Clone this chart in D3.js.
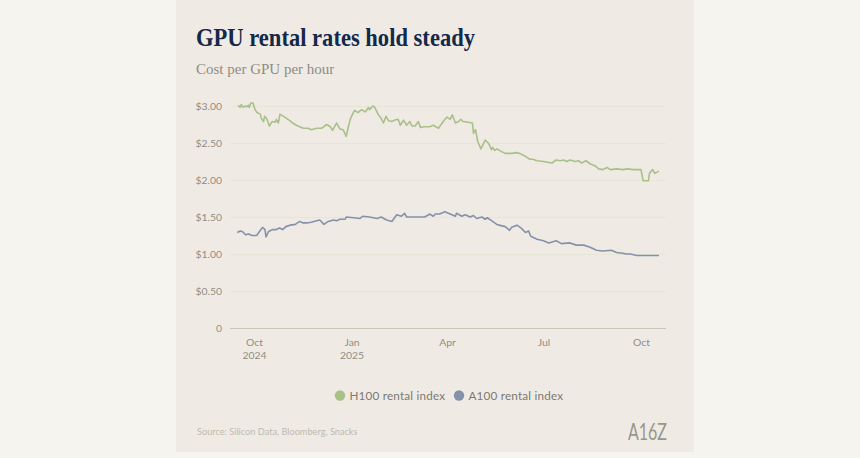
<!DOCTYPE html>
<html>
<head>
<meta charset="utf-8">
<script src="https://cdn.jsdelivr.net/npm/d3@7"></script>
<style>
	html, body { margin: 0; padding: 0; background: #f6f4ef; }
	svg { display: block; }
	text { font-family: Lato, sans-serif; }
	.title { font-family: "Liberation Serif", serif; font-weight: 700; font-size: 25px; fill: #14284a; }
	.subtitle { font-family: "Liberation Serif", serif; font-size: 15px; fill: #8d8b84; }
	.tick text { font-size: 10.4px; fill: #8f8d85; }
	.legend-label { font-size: 11.7px; fill: #7b7972; letter-spacing: 0.2px; }
	.source { font-size: 9.2px; fill: #bdbab1; }
	.logo { font-family: Lato, sans-serif; font-weight: 400; font-size: 24px; fill: #98958b; }
</style>
</head>
<body>
<svg id="chart" width="860" height="458"></svg>
<script>
// days are counted from 1 Oct 2024
var h100Days = [-15, -13, -12, -10, -8.5, -7, -5, -4.4, -3, -1, 1, 3, 6, 7, 9, 10, 12, 14.5, 17, 20, 21, 23, 24.5, 28, 31, 34, 36.5, 40, 43, 46.5, 51, 54, 59, 64, 68.5, 72, 74, 78, 81, 84, 87, 89, 91, 94, 95, 98, 101.5, 105, 108, 109, 112, 114, 117, 120, 122, 124.5, 127, 130, 133, 136, 138, 141, 144, 147, 149, 152, 155, 157, 160, 164, 166, 169, 174, 179, 182, 185, 187, 190, 193, 195, 197, 202, 206, 207, 209, 211, 214, 218, 221, 224, 225, 227, 229, 234, 237, 243, 248, 252, 257, 260, 263, 267, 273, 281, 285, 289, 292, 295, 298, 303, 306, 309, 313, 317, 322, 325, 329, 333, 336, 342, 348, 352, 358, 365, 367, 372, 373, 376, 378, 382];
var h100Values = [3.01, 2.98, 3.02, 2.98, 3.00, 2.99, 3.01, 2.98, 3.04, 3.04, 2.95, 2.91, 2.89, 2.83, 2.79, 2.86, 2.83, 2.73, 2.79, 2.78, 2.82, 2.77, 2.89, 2.86, 2.83, 2.80, 2.77, 2.74, 2.72, 2.70, 2.70, 2.68, 2.70, 2.70, 2.75, 2.72, 2.67, 2.77, 2.69, 2.68, 2.59, 2.72, 2.83, 2.92, 2.94, 2.91, 2.95, 2.92, 2.98, 2.95, 3.00, 2.98, 2.89, 2.83, 2.77, 2.86, 2.80, 2.79, 2.81, 2.82, 2.74, 2.81, 2.74, 2.79, 2.73, 2.73, 2.79, 2.71, 2.72, 2.72, 2.72, 2.74, 2.70, 2.80, 2.85, 2.82, 2.88, 2.77, 2.79, 2.82, 2.79, 2.78, 2.77, 2.63, 2.68, 2.52, 2.42, 2.54, 2.50, 2.41, 2.44, 2.40, 2.42, 2.38, 2.36, 2.36, 2.37, 2.35, 2.31, 2.28, 2.28, 2.26, 2.25, 2.23, 2.27, 2.26, 2.27, 2.25, 2.27, 2.25, 2.26, 2.23, 2.26, 2.22, 2.19, 2.15, 2.14, 2.17, 2.14, 2.15, 2.14, 2.15, 2.14, 2.14, 1.99, 1.99, 2.09, 2.14, 2.09, 2.12];
var a100Days = [-15.7, -13, -10.7, -8, -5, -2, 2.5, 5, 8, 10.4, 11.3, 13.5, 16, 18, 21, 24, 27, 30, 34, 39, 43, 46.5, 50, 54, 59, 62, 66, 70, 75, 78, 81, 86, 87, 94, 100, 102.5, 109, 116, 120, 125, 130, 134.6, 139, 142, 144, 150, 161, 166, 169, 171, 175, 180, 185, 190, 191, 196, 199, 204, 207, 210, 215, 218, 220, 224, 229, 234, 237, 241, 243, 248, 252, 256, 259, 261, 267, 273, 278, 285, 290, 298, 304, 311, 317, 323, 329, 337, 342, 348, 351, 355, 361, 367, 382];
var a100Values = [1.29, 1.31, 1.30, 1.26, 1.27, 1.25, 1.25, 1.30, 1.36, 1.33, 1.23, 1.30, 1.32, 1.33, 1.33, 1.35, 1.33, 1.37, 1.39, 1.40, 1.44, 1.42, 1.42, 1.43, 1.45, 1.46, 1.40, 1.44, 1.46, 1.45, 1.47, 1.47, 1.50, 1.49, 1.48, 1.51, 1.50, 1.48, 1.50, 1.46, 1.44, 1.53, 1.51, 1.55, 1.50, 1.50, 1.50, 1.54, 1.51, 1.54, 1.54, 1.57, 1.54, 1.51, 1.55, 1.51, 1.53, 1.50, 1.52, 1.48, 1.50, 1.47, 1.49, 1.45, 1.40, 1.38, 1.37, 1.32, 1.36, 1.39, 1.35, 1.29, 1.31, 1.24, 1.20, 1.18, 1.15, 1.18, 1.14, 1.15, 1.12, 1.12, 1.09, 1.05, 1.04, 1.05, 1.02, 1.01, 1.00, 1.00, 0.98, 0.98, 0.98];

var yTicks = [0, 0.5, 1, 1.5, 2, 2.5, 3];
var xTickDates = ['2024-10-01', '2025-01-01', '2025-04-01', '2025-07-01', '2025-10-01'];
var xTickLabels = [['Oct', '2024'], ['Jan', '2025'], ['Apr'], ['Jul'], ['Oct']];
var seriesNames = ['H100 rental index', 'A100 rental index'];
var seriesColors = ['#a9c088', '#8492a9'];

var parseDay = d3.utcParse('%Y-%m-%d');
var dayZero = parseDay('2024-10-01');

var svg = d3.select('#chart');

svg.append('rect')
	.attr('x', 176).attr('y', 0)
	.attr('width', 518).attr('height', 452)
	.attr('fill', '#efebe4');

var x = d3.scaleUtc()
	.domain([dayZero, parseDay('2025-10-01')])
	.range([254, 641]);

var y = d3.scaleLinear()
	.domain([0, 3])
	.range([328, 106]);

svg.append('text').attr('class', 'title').attr('x', 196).attr('y', 46)
	.attr('textLength', 279).attr('lengthAdjust', 'spacingAndGlyphs')
	.text('GPU rental rates hold steady');
svg.append('text').attr('class', 'subtitle').attr('x', 196).attr('y', 74).text('Cost per GPU per hour');

// y axis doubles as the grid
var yAxis = svg.append('g')
	.attr('transform', 'translate(230,0)')
	.call(d3.axisLeft(y)
		.tickValues(yTicks)
		.tickSize(-436)
		.tickPadding(8)
		.tickFormat(d => d === 0 ? '0' : d3.format('$.2f')(d)));

yAxis.select('.domain').remove();
yAxis.selectAll('.tick line')
	.attr('stroke', d => d === 0 ? '#c8c8b4' : '#e6e5d6')
	.attr('stroke-width', d => d === 0 ? 1.2 : 1);

var xAxis = svg.append('g')
	.attr('transform', 'translate(0,328)')
	.call(d3.axisBottom(x)
		.tickValues(xTickDates.map(parseDay))
		.tickSize(0)
		.tickPadding(11)
		.tickFormat(''));

xAxis.select('.domain').remove();
xAxis.selectAll('.tick text')
	.each(function (d, i) {
		d3.select(this).selectAll('tspan')
			.data(xTickLabels[i])
			.enter()
			.append('tspan')
			.attr('x', 0)
			.attr('dy', (t, j) => j === 0 ? '0.71em' : '1.25em')
			.text(t => t);
	});

var line = d3.line()
	.x(d => x(d3.utcHour.offset(dayZero, d[0] * 24)))
	.y(d => y(d[1]));

[[h100Days, h100Values], [a100Days, a100Values]].forEach(function (s, i) {
	svg.append('path')
		.datum(d3.zip(s[0], s[1]))
		.attr('fill', 'none')
		.attr('stroke', seriesColors[i])
		.attr('stroke-width', 1.6)
		.attr('stroke-linejoin', 'round')
		.attr('d', line);
});

// legend
var legendX = [340, 459];
var legend = svg.selectAll('.legend')
	.data(seriesNames)
	.enter()
	.append('g')
	.attr('class', 'legend')
	.attr('transform', (d, i) => 'translate(' + legendX[i] + ',395.5)');

legend.append('circle')
	.attr('r', 5.2)
	.attr('fill', (d, i) => seriesColors[i]);

legend.append('text')
	.attr('class', 'legend-label')
	.attr('x', 9.5)
	.attr('dy', '0.35em')
	.text(d => d);

svg.append('text').attr('class', 'source').attr('x', 197).attr('y', 435).text('Source: Silicon Data, Bloomberg, Snacks');
svg.append('text').attr('class', 'logo').attr('x', 628).attr('y', 440).attr('textLength', 39).attr('lengthAdjust', 'spacingAndGlyphs').text('A16Z');
</script>
</body>
</html>
